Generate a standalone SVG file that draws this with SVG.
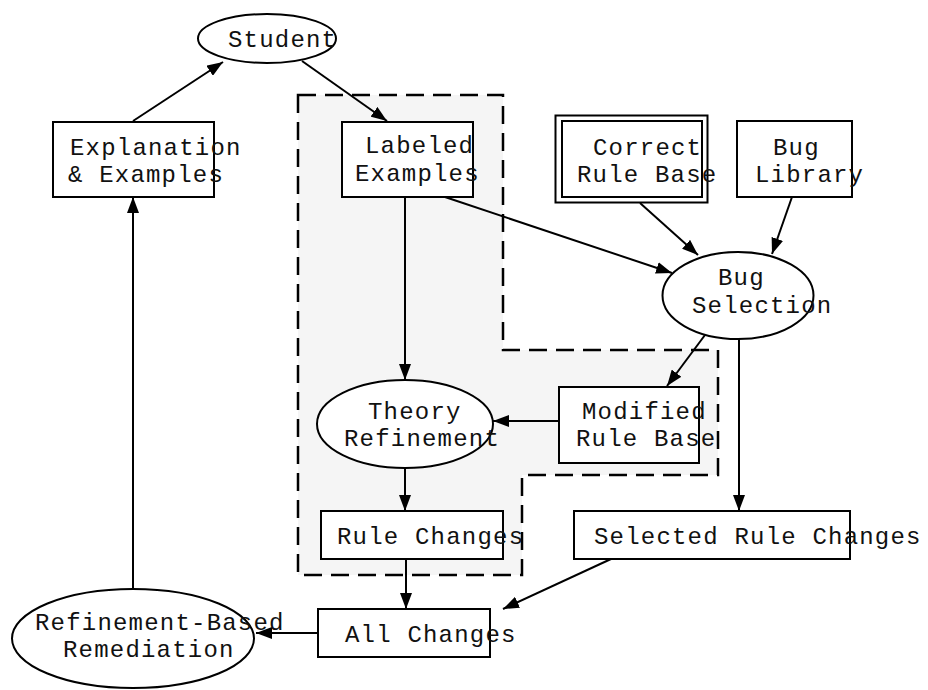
<svg xmlns="http://www.w3.org/2000/svg" width="928" height="690" viewBox="0 0 928 690">
  <style>
    .shape { fill: #ffffff; stroke: #000000; stroke-width: 2; }
    .cluster { fill: #f5f5f5; stroke: #000000; stroke-width: 2.5; stroke-dasharray: 18 9; }
    .edge { fill: none; stroke: #000000; stroke-width: 2; marker-end: url(#arrow); }
    text { font-family: "Liberation Mono", "Courier New", monospace; font-size: 24px; letter-spacing: 1.2px; fill: #111111; }
  </style>
  <defs>
    <marker id="arrow" markerUnits="userSpaceOnUse" markerWidth="17" markerHeight="12" refX="16" refY="6" orient="auto">
      <path d="M0,0 L16,6 L0,12 z" fill="#000000"/>
    </marker>
  </defs>

  <!-- dashed cluster around the refinement stage -->
  <g id="cluster">
    <path class="cluster" d="M298,95 L503,95 L503,350 L718,350 L718,475 L522,475 L522,575 L298,575 Z"/>
  </g>

  <!-- connectors -->
  <g id="edges">
    <line class="edge" x1="133" y1="121" x2="223" y2="62"/>
    <line class="edge" x1="302" y1="61" x2="387" y2="121"/>
    <line class="edge" x1="405" y1="197" x2="405" y2="380"/>
    <line class="edge" x1="445" y1="197" x2="672" y2="273"/>
    <line class="edge" x1="640" y1="203" x2="698" y2="255"/>
    <line class="edge" x1="792" y1="197" x2="772" y2="254"/>
    <line class="edge" x1="705" y1="335" x2="667" y2="386"/>
    <line class="edge" x1="739" y1="339" x2="739" y2="511"/>
    <line class="edge" x1="559" y1="421" x2="493" y2="421"/>
    <line class="edge" x1="405" y1="468" x2="405" y2="511"/>
    <line class="edge" x1="406" y1="559" x2="406" y2="609"/>
    <line class="edge" x1="611" y1="559" x2="503" y2="609"/>
    <line class="edge" x1="318" y1="633" x2="256" y2="633"/>
    <line class="edge" x1="133" y1="589" x2="133" y2="197"/>
  </g>

  <g id="student">
    <ellipse class="shape" cx="267" cy="38.5" rx="69" ry="24.5"/>
    <text x="228" y="47">Student</text>
  </g>

  <g id="explanation-examples">
    <rect class="shape" x="53" y="122" width="161" height="75"/>
    <text x="70" y="155">Explanation</text>
    <text x="68" y="182">&amp; Examples</text>
  </g>

  <g id="labeled-examples">
    <rect class="shape" x="342" y="122" width="131" height="75"/>
    <text x="365" y="153">Labeled</text>
    <text x="355" y="181">Examples</text>
  </g>

  <g id="correct-rule-base">
    <rect class="shape" x="555.5" y="115.5" width="152" height="87" stroke-width="1.5"/>
    <rect class="shape" x="562" y="121" width="140" height="76"/>
    <text x="593" y="155">Correct</text>
    <text x="577" y="182">Rule Base</text>
  </g>

  <g id="bug-library">
    <rect class="shape" x="737" y="121" width="115" height="76"/>
    <text x="773" y="155">Bug</text>
    <text x="755" y="182">Library</text>
  </g>

  <g id="bug-selection">
    <ellipse class="shape" cx="738" cy="295.5" rx="75.5" ry="43.5"/>
    <text x="718" y="285">Bug</text>
    <text x="692" y="313">Selection</text>
  </g>

  <g id="theory-refinement">
    <ellipse class="shape" cx="405" cy="424" rx="88" ry="44"/>
    <text x="368" y="419">Theory</text>
    <text x="344" y="446">Refinement</text>
  </g>

  <g id="modified-rule-base">
    <rect class="shape" x="559" y="387" width="140" height="76"/>
    <text x="582" y="419">Modified</text>
    <text x="576" y="446">Rule Base</text>
  </g>

  <g id="rule-changes">
    <rect class="shape" x="321" y="511" width="182" height="48"/>
    <text x="337" y="544">Rule Changes</text>
  </g>

  <g id="selected-rule-changes">
    <rect class="shape" x="574" y="511" width="276" height="48"/>
    <text x="594" y="544">Selected Rule Changes</text>
  </g>

  <g id="all-changes">
    <rect class="shape" x="318" y="609" width="172" height="48"/>
    <text x="345" y="642">All Changes</text>
  </g>

  <g id="refinement-based-remediation">
    <ellipse class="shape" cx="133" cy="638.5" rx="121" ry="49.5"/>
    <text x="35" y="630">Refinement-Based</text>
    <text x="63" y="657">Remediation</text>
  </g>
</svg>
